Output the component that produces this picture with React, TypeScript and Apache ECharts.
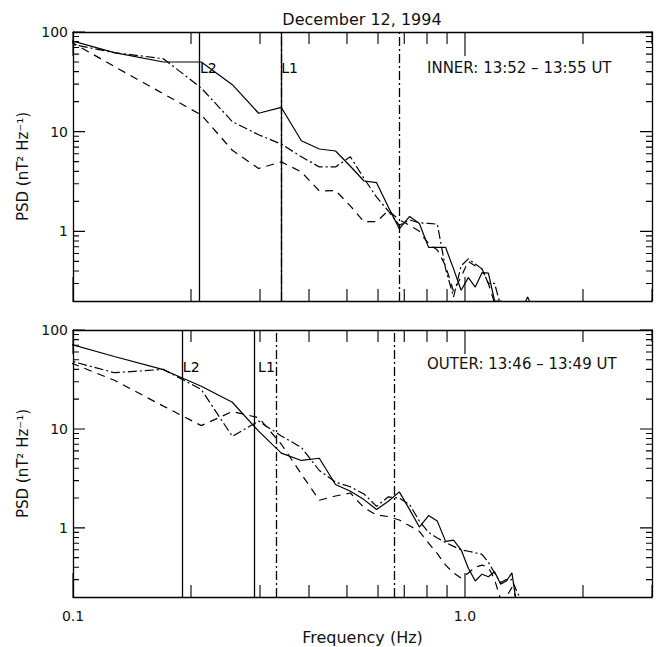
import React, { useEffect, useRef } from 'react';
import * as echarts from 'echarts';

// Frequency grid of the spectra (Hz)
const FREQ = [0.085, 0.1275, 0.17, 0.2125, 0.255, 0.2975, 0.34, 0.3825, 0.425, 0.4675, 0.51, 0.5525, 0.595, 0.6375, 0.68, 0.7225, 0.765, 0.8075, 0.85, 0.8925, 0.935, 0.9775, 1.02, 1.0625, 1.105, 1.1475, 1.19, 1.2325, 1.275, 1.3175, 1.36, 1.4025, 1.445, 1.4875];

// INNER panel (13:52 - 13:55 UT)
const INNER_SOLID = [97, 62, 50, 50, 29.6, 15.3, 17.5, 8.1, 6.7, 6.4, 4.5, 3.2, 3.08, 1.75, 1.06, 1.41, 1.2, 0.69, 0.69, 0.69, 0.42, 0.256, 0.343, 0.276, 0.385, 0.38, 0.2, 0.2, 0.17, 0.15, 0.16, 0.17, 0.22, 0.17];
const INNER_DASHDOT = [85, 62, 54, 27.4, 12.6, 9.3, 7.5, 5.6, 4.43, 4.43, 5.6, 3.4, 2.2, 1.6, 1.15, 1.3, 1.22, 1.2, 1.18, 0.42, 0.22, 0.45, 0.53, 0.47, 0.42, 0.3, 0.3, 0.18, 0.15, 0.12, 0.12, 0.12, 0.12, 0.12];
const INNER_DASHED = [112, 45, 24, 14.7, 6.5, 4.27, 4.98, 3.94, 2.54, 2.57, 1.8, 1.25, 1.25, 1.62, 1.3, 1.15, 1.0, 0.75, 0.65, 0.45, 0.25, 0.35, 0.5, 0.45, 0.42, 0.3, 0.19, 0.15, 0.12, 0.12, 0.12, 0.12, 0.12, 0.12];

// OUTER panel (13:46 - 13:49 UT)
const OUTER_SOLID = [85, 54, 39.7, 27, 18.6, 9.5, 5.7, 4.8, 5.05, 2.74, 2.34, 1.93, 1.53, 1.86, 2.31, 1.53, 1.02, 1.33, 1.17, 0.73, 0.75, 0.6, 0.39, 0.29, 0.34, 0.32, 0.36, 0.27, 0.29, 0.35, 0.15, 0.12, 0.12, 0.12];
const OUTER_DASHDOT = [57, 37, 40, 25, 8.4, 12, 8.5, 6.5, 3.8, 2.9, 2.6, 2.2, 1.65, 2.06, 2.0, 1.72, 1.17, 0.9, 0.79, 0.71, 0.65, 0.6, 0.58, 0.56, 0.54, 0.45, 0.35, 0.28, 0.3, 0.3, 0.22, 0.18, 0.12, 0.12];
const OUTER_DASHED = [59, 31, 17, 10.8, 15, 13, 7, 3.5, 1.9, 2.1, 2.25, 1.6, 1.35, 1.3, 1.2, 1.05, 0.92, 0.7, 0.55, 0.42, 0.35, 0.31, 0.35, 0.4, 0.42, 0.4, 0.3, 0.19, 0.2, 0.25, 0.18, 0.12, 0.12, 0.12];

// Vertical marker lines (Hz)
const INNER_L_LINES = [0.209, 0.337]; // L2, L1
const INNER_DD_LINES = [0.3403, 0.682];
const OUTER_L_LINES = [0.189, 0.294]; // L2, L1
const OUTER_DD_LINES = [0.3305, 0.661];
const L_NAMES = ['L2', 'L1'];
const INNER_L_LABEL_Y = 44;
const OUTER_L_LABEL_Y = 42.6;

// Axis ticks
const X_MAJOR = [0.1, 1];
const X_MINOR = [0.2, 0.3, 0.4, 0.5, 0.6, 0.7, 0.8, 0.9, 2, 3];
const Y_MAJOR = [1, 10, 100];
const Y_MINOR = [0.3, 0.4, 0.5, 0.6, 0.7, 0.8, 0.9, 2, 3, 4, 5, 6, 7, 8, 9, 20, 30, 40, 50, 60, 70, 80, 90];

const X_MIN = 0.1, X_MAX = 3, Y_MIN = 0.2, Y_MAX = 100;

// Layout
const GRID_LEFT = 73, GRID_WIDTH = 579;
const GRIDS = [
  { top: 32, height: 269 },
  { top: 330, height: 267 },
];

const FONT = 'DejaVu Sans';
const INK = '#000';
const TEXT = '#111';

const DASHDOT: number[] = [9, 3, 2, 3];
const DASHED: number[] = [8, 6];

const X_TICK_MAJOR_LEN = 24, X_TICK_MINOR_LEN = 12, Y_TICK_MAJOR_LEN = 12, Y_TICK_MINOR_LEN = 6;

const near = (v: number, list: number[]) => list.some((t) => Math.abs(t - v) < 1e-6 * Math.max(1, t));

function xAxis(grid: number, showLabels: boolean) {
  return {
    type: 'log',
    logBase: 10,
    min: X_MIN,
    max: X_MAX,
    gridIndex: grid,
    position: 'bottom',
    splitLine: { show: false },
    axisLine: { show: true, onZero: false, lineStyle: { color: INK, width: 1.3 } },
    axisTick: { show: false },
    axisLabel: {
      show: showLabels,
      customValues: X_MAJOR,
      formatter: (v: number) => (near(Number(v), X_MAJOR) ? Number(v).toFixed(1) : ''),
      margin: 12,
      fontSize: 14,
      fontFamily: FONT,
      color: TEXT,
    },
    name: showLabels ? 'Frequency (Hz)' : '',
    nameLocation: 'middle',
    nameGap: 32,
    nameTextStyle: { fontSize: 16, fontFamily: FONT, color: TEXT },
  };
}

function xAxisTop(grid: number) {
  return {
    type: 'log',
    logBase: 10,
    min: X_MIN,
    max: X_MAX,
    gridIndex: grid,
    position: 'top',
    splitLine: { show: false },
    axisLine: { show: true, onZero: false, lineStyle: { color: INK, width: 1.3 } },
    axisTick: { show: false },
    axisLabel: { show: false },
  };
}

function yAxis(grid: number) {
  return {
    type: 'log',
    logBase: 10,
    min: Y_MIN,
    max: Y_MAX,
    gridIndex: grid,
    position: 'left',
    splitLine: { show: false },
    axisLine: { show: true, onZero: false, lineStyle: { color: INK, width: 1.3 } },
    axisTick: { show: false },
    axisLabel: {
      show: true,
      customValues: Y_MAJOR,
      formatter: (v: number) => (near(Number(v), Y_MAJOR) ? String(Math.round(v)) : ''),
      margin: 5,
      fontSize: 14,
      fontFamily: FONT,
      color: TEXT,
    },
    name: 'PSD (nT\u00B2 Hz\u207B\u00B9)',
    nameLocation: 'middle',
    nameRotate: 90,
    nameGap: 41,
    nameTextStyle: { fontSize: 15, fontFamily: FONT, color: TEXT },
  };
}

function yAxisRight(grid: number) {
  return {
    type: 'log',
    logBase: 10,
    min: Y_MIN,
    max: Y_MAX,
    gridIndex: grid,
    position: 'right',
    splitLine: { show: false },
    axisLine: { show: true, onZero: false, lineStyle: { color: INK, width: 1.3 } },
    axisTick: { show: false },
    axisLabel: { show: false },
  };
}

function spectrum(grid: number, values: number[], dash: any) {
  return {
    type: 'line',
    xAxisIndex: grid * 2,
    yAxisIndex: grid * 2,
    data: FREQ.map((f, i) => [f, values[i]]),
    symbol: 'none',
    clip: true,
    lineStyle: { color: INK, width: 1.2, type: dash },
    silent: true,
  };
}

function markers(grid: number, lLines: number[], ddLines: number[]) {
  return {
    type: 'line',
    xAxisIndex: grid * 2,
    yAxisIndex: grid * 2,
    data: [],
    silent: true,
    markLine: {
      silent: true,
      symbol: 'none',
      label: { show: false },
      data: [
        ...lLines.map((x) => ({ xAxis: x, lineStyle: { color: INK, width: 1.3, type: 'solid' } })),
        ...ddLines.map((x) => ({ xAxis: x, lineStyle: { color: INK, width: 1.3, type: DASHDOT } })),
      ],
    },
  };
}

function lLabels(grid: number, lLines: number[], y: number) {
  return {
    type: 'scatter',
    xAxisIndex: grid * 2,
    yAxisIndex: grid * 2,
    symbolSize: 1,
    silent: true,
    itemStyle: { color: 'rgba(0,0,0,0)' },
    data: lLines.map((x, i) => ({ value: [x, y], name: L_NAMES[i] })),
    label: {
      show: true,
      position: 'right',
      distance: 1,
      formatter: (p: any) => p.name,
      fontSize: 14,
      fontFamily: FONT,
      color: '#000',
      opacity: 1,
    },
  };
}

// Inward tick marks on all four sides, drawn as short broken line segments in the
// data space of the log axes (tick length in pixels converted to a log-scale factor).
function ticks(grid: number) {
  const g = GRIDS[grid];
  const yPerDecade = g.height / Math.log10(Y_MAX / Y_MIN);
  const xPerDecade = GRID_WIDTH / Math.log10(X_MAX / X_MIN);
  const up = (len: number) => Math.pow(10, len / yPerDecade);
  const right = (len: number) => Math.pow(10, len / xPerDecade);
  const data: any[] = [];
  const seg = (a: number[], b: number[]) => {
    data.push(a, b, [b[0], '-']);
  };
  const xTick = (v: number, len: number) => {
    seg([v, Y_MIN], [v, Y_MIN * up(len)]);
    seg([v, Y_MAX], [v, Y_MAX / up(len)]);
  };
  const yTick = (v: number, len: number) => {
    seg([X_MIN, v], [X_MIN * right(len), v]);
    seg([X_MAX, v], [X_MAX / right(len), v]);
  };
  X_MAJOR.forEach((v) => xTick(v, X_TICK_MAJOR_LEN));
  X_MINOR.forEach((v) => xTick(v, X_TICK_MINOR_LEN));
  Y_MAJOR.forEach((v) => yTick(v, Y_TICK_MAJOR_LEN));
  Y_MINOR.forEach((v) => yTick(v, Y_TICK_MINOR_LEN));
  return {
    type: 'line',
    xAxisIndex: grid * 2,
    yAxisIndex: grid * 2,
    data,
    symbol: 'none',
    connectNulls: false,
    clip: false,
    silent: true,
    lineStyle: { color: INK, width: 1.1, type: 'solid' },
  };
}

export default function App() {
  const ref = useRef<HTMLDivElement>(null);
  useEffect(() => {
    if (!ref.current) return;
    const chart = echarts.init(ref.current, undefined, { renderer: 'svg' });
    const option: any = {
      animation: false,
      backgroundColor: '#fff',
      grid: GRIDS.map((g) => ({ left: GRID_LEFT, top: g.top, width: GRID_WIDTH, height: g.height, outerBoundsMode: 'none' })),
      xAxis: [xAxis(0, false), xAxisTop(0), xAxis(1, true), xAxisTop(1)],
      yAxis: [yAxis(0), yAxisRight(0), yAxis(1), yAxisRight(1)],
      series: [
        spectrum(0, INNER_SOLID, 'solid'),
        spectrum(0, INNER_DASHDOT, DASHDOT),
        spectrum(0, INNER_DASHED, DASHED),
        markers(0, INNER_L_LINES, INNER_DD_LINES),
        lLabels(0, INNER_L_LINES, INNER_L_LABEL_Y),
        ticks(0),
        spectrum(1, OUTER_SOLID, 'solid'),
        spectrum(1, OUTER_DASHDOT, DASHDOT),
        spectrum(1, OUTER_DASHED, DASHED),
        markers(1, OUTER_L_LINES, OUTER_DD_LINES),
        lLabels(1, OUTER_L_LINES, OUTER_L_LABEL_Y),
        ticks(1),
      ],
      graphic: [
        {
          type: 'text',
          x: 362,
          y: 19,
          style: { text: 'December 12, 1994', fontSize: 16, fontFamily: FONT, fill: TEXT, align: 'center', verticalAlign: 'middle' },
        },
        {
          type: 'text',
          x: 427,
          y: 68,
          style: { text: 'INNER: 13:52 \u2013 13:55 UT', fontSize: 15, fontFamily: FONT, fill: TEXT, align: 'left', verticalAlign: 'middle' },
        },
        {
          type: 'text',
          x: 427,
          y: 364,
          style: { text: 'OUTER: 13:46 \u2013 13:49 UT', fontSize: 15, fontFamily: FONT, fill: TEXT, align: 'left', verticalAlign: 'middle' },
        },
      ],
    };
    chart.setOption(option);
    return () => chart.dispose();
  }, []);
  return <div ref={ref} style={{ position: 'absolute', left: 0, top: 0, width: 657, height: 647 }} />;
}
